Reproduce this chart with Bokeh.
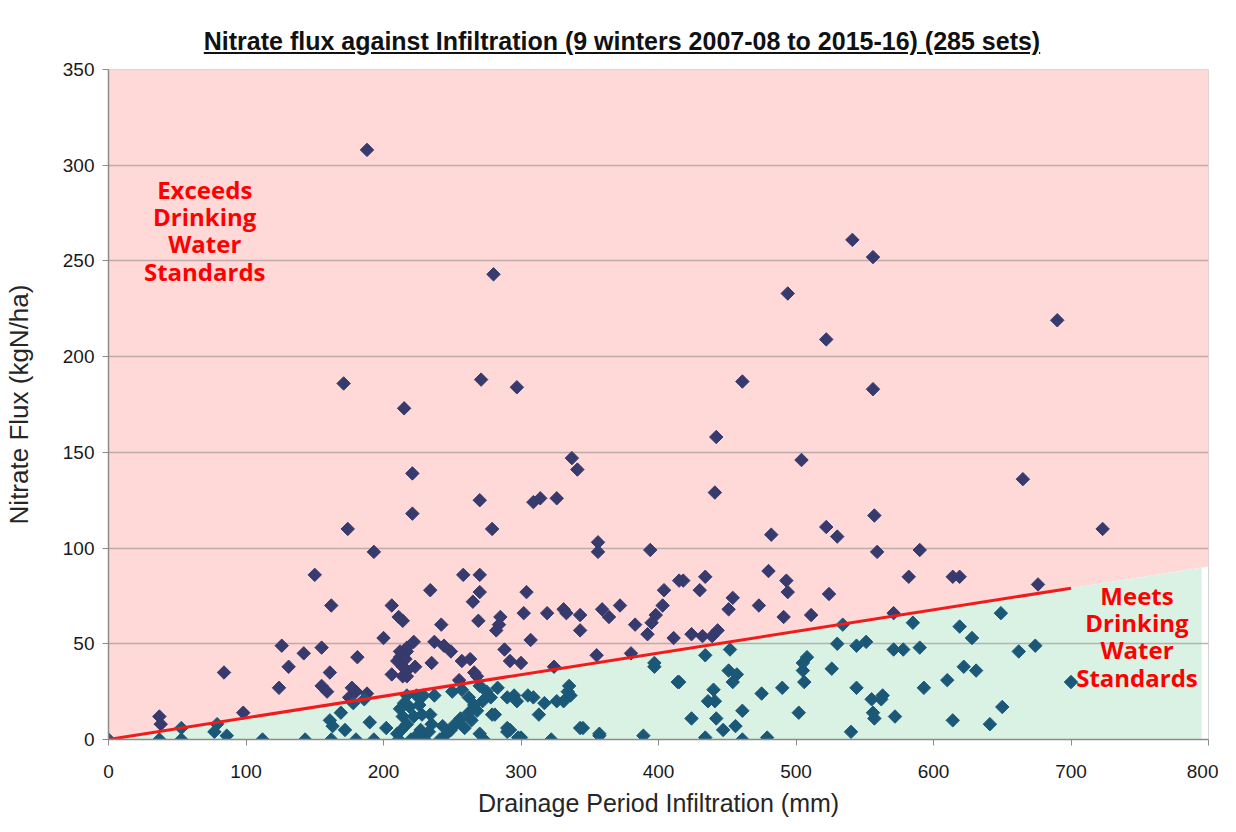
from bokeh.plotting import figure
from bokeh.models import Div, Range1d, FixedTicker
from bokeh.layouts import column
from bokeh.core.properties import value
from bokeh.embed import file_html
from bokeh.resources import INLINE

# ---------------- data ----------------
title_text = "Nitrate flux against Infiltration (9 winters 2007-08 to 2015-16) (285 sets)"
x_label = "Drainage Period Infiltration (mm)"
y_label = "Nitrate Flux (kgN/ha)"
x_ticks = [0, 100, 200, 300, 400, 500, 600, 700, 800]
y_ticks = [0, 50, 100, 150, 200, 250, 300, 350]

# 50 mg/l nitrate limit expressed as kgN/ha per mm of infiltration
limit_slope = 0.1129
limit_line_x = [0, 700]
meets_area_x_end = 795
exceeds_area_x_end = 800

exceed_infiltration = [
    188, 541, 556, 494, 280, 690, 522, 171, 271, 297, 461, 556, 215, 221, 337, 341, 442, 441, 665, 504,
    723, 174, 279, 270, 309, 314, 326, 221, 557, 522, 530, 482, 193, 356, 356, 394, 559, 590,
    150, 258, 270, 480, 418, 434, 493, 582, 614, 619, 676,
    162, 206, 211, 214, 200, 126, 142, 155, 181, 131, 161, 84, 212, 210, 217, 206, 214, 217, 124, 155,
    159, 177, 180, 188, 175, 37, 38, 98,
    234, 270, 265, 304, 242, 269, 285, 284, 282, 302, 319, 331, 333, 343, 343, 359, 364, 372, 383, 404,
    403, 398, 395, 392, 411, 415,
    307, 222, 217, 212, 216, 214, 217, 223, 235, 237, 244, 249, 257, 263, 266, 268, 255, 288, 292, 300,
    324, 355, 380,
    430, 494, 524, 454, 451, 473, 491, 511, 424, 432, 439, 443, 571,
]
exceed_flux = [
    308, 261, 252, 233, 243, 219, 209, 186, 188, 184, 187, 183, 173, 139, 147, 141, 158, 129, 136, 146,
    110, 110, 110, 125, 124, 126, 126, 118, 117, 111, 106, 107, 98, 103, 98, 99, 98, 99,
    86, 86, 86, 88, 83, 85, 83, 85, 85, 85, 81,
    70, 70, 64, 62, 53, 49, 45, 48, 43, 38, 35, 35, 43, 41, 46, 34, 33, 36, 27, 28,
    25, 27, 25, 24, 22, 12, 8, 14,
    78, 77, 72, 77, 60, 62, 64, 60, 57, 66, 66, 68, 66, 65, 57, 68, 64, 70, 60, 78,
    70, 65, 61, 55, 53, 83,
    52, 51, 48, 46, 42, 38, 33, 38, 40, 51, 49, 46, 41, 42, 35, 33, 31, 47, 41, 40,
    38, 44, 45,
    78, 77, 76, 74, 68, 70, 64, 65, 55, 54, 54, 57, 66,
]

meet_infiltration = [
    0, 37, 53, 53, 77, 79, 86, 112, 143, 162, 161, 169, 172, 163, 180, 190, 193, 202, 178, 186,
    211, 213, 214, 215, 212, 217, 224, 229, 237, 220, 227, 235, 243, 249, 222, 228, 234, 217, 224, 230,
    233, 210, 219, 226,
    250, 257, 262, 266, 262, 256, 252, 246, 241, 270, 275, 272, 268, 264, 259, 270, 273, 279, 281, 278,
    283,
    290, 292, 298, 290, 295, 297, 305, 309, 317, 313, 326, 331, 335, 334, 336, 345, 357, 357, 322, 300,
    290, 343, 389, 397, 397, 414,
    434, 452, 530, 544, 551, 571, 578, 590, 585, 619, 628, 649, 662, 674, 700, 508, 505, 505, 506, 526,
    451, 457, 454, 415, 440, 436, 441, 475, 490, 544, 555, 562, 563, 593, 610, 622, 631, 650, 424, 442,
    461, 447, 456, 434, 461, 479, 502, 540, 556, 557, 572, 614, 641, 534,
]
meet_flux = [
    0, 0, 0, 6, 4, 8, 2, 0, 0, 0, 10, 14, 5, 7, 0, 9, 0, 6, 19, 21,
    0, 5, 12, 19, 16, 23, 23, 23, 23, 0, 5, 8, 7, 5, 12, 13, 13, 8, 2, 0,
    4, 3, 17, 18,
    25, 26, 22, 18, 14, 11, 8, 3, 0, 28, 25, 20, 15, 10, 6, 3, 0, 13, 13, 22,
    27,
    6, 5, 1, 22, 23, 20, 23, 22, 19, 13, 20, 20, 28, 25, 23, 6, 2, 3, 0, 1,
    4, 6, 2, 40, 38, 30,
    44, 47, 50, 49, 51, 47, 47, 48, 61, 59, 53, 66, 46, 49, 30, 43, 40, 36, 30, 37,
    36, 34, 30, 30, 26, 20, 20, 24, 27, 27, 21, 21, 23, 27, 31, 38, 36, 17, 11, 11,
    15, 5, 7, 1, 0, 1, 14, 4, 14, 11, 12, 10, 8, 60,
]

# ---------------- figure ----------------
FONT = "Liberation Sans"

p = figure(
    frame_width=1100, frame_height=670,
    x_range=Range1d(0, 800), y_range=Range1d(0, 350),
    output_backend="svg", toolbar_location=None,
    min_border_left=105, min_border_right=10, min_border_top=13, min_border_bottom=85,
    background_fill_color="white", border_fill_color="white",
    outline_line_color="#d4d4d4",
)

# shaded regions
exceeds = p.patch(
    x=[0, exceeds_area_x_end, exceeds_area_x_end, 0],
    y=[0, exceeds_area_x_end * limit_slope, 350, 350],
    fill_color="#ffd8d8", line_color=None,
)
exceeds.level = "image"
meets = p.patch(
    x=[0, meets_area_x_end, meets_area_x_end],
    y=[0, meets_area_x_end * limit_slope, 0],
    fill_color="#d9f2e4", line_color=None,
)
meets.level = "image"

# grid & axes
p.xgrid.visible = False
p.ygrid.ticker = FixedTicker(ticks=y_ticks)
p.ygrid.grid_line_color = "#b0a0a0"
p.ygrid.grid_line_width = 1.5
p.ygrid.grid_line_alpha = 0.8

p.xaxis.ticker = FixedTicker(ticks=x_ticks)
p.yaxis.ticker = FixedTicker(ticks=y_ticks)
for ax in (p.xaxis[0], p.yaxis[0]):
    ax.axis_line_color = "#8c8c8c"
    ax.axis_line_width = 1.5
    ax.major_tick_line_color = "#8c8c8c"
    ax.major_tick_out = 6
    ax.major_tick_in = 0
    ax.minor_tick_out = 0
    ax.minor_tick_in = 0
    ax.major_label_text_font = FONT
    ax.major_label_text_font_size = "19px"
    ax.major_label_text_color = "#1a1a1a"
    ax.axis_label_text_font = FONT
    ax.axis_label_text_font_style = "normal"
    ax.axis_label_text_color = "#262626"

p.xaxis.axis_label = x_label
p.yaxis.axis_label = y_label
p.xaxis.axis_label_text_font_size = "25px"
p.yaxis.axis_label_text_font_size = "26px"
p.xaxis.major_label_standoff = 19
p.xaxis.axis_label_standoff = 8
p.yaxis.major_label_standoff = 8
p.yaxis.axis_label_standoff = 26

# points
p.scatter(exceed_infiltration, exceed_flux, marker="square", size=9.5, angle=0.785398,
          fill_color="#363a6c", line_color="#363a6c")
p.scatter(meet_infiltration, meet_flux, marker="square", size=9.5, angle=0.785398,
          fill_color="#1b5878", line_color="#1b5878")

# limit line
p.line(limit_line_x, [v * limit_slope for v in limit_line_x], line_color="#ee1c1c", line_width=3)

# region labels
p.text(x=[70], y=[266], text=["Exceeds\nDrinking\nWater\nStandards"],
       text_font=value("Open Sans"), text_font_style="bold", text_font_size="24px",
       text_color="#ff0000", text_align="center", text_baseline="middle", text_line_height=0.83)
p.text(x=[748], y=[54], text=["Meets\nDrinking\nWater\nStandards"],
       text_font=value("Open Sans"), text_font_style="bold", text_font_size="24px",
       text_color="#ff0000", text_align="center", text_baseline="middle", text_line_height=0.83)

title = Div(
    text=('<div style="text-align:center;width:1212px;padding-top:24px;position:relative;left:16px;'
          'font-family:\'Liberation Sans\',Arial,sans-serif;font-weight:bold;font-size:25px;'
          'color:#111;text-decoration:underline;">' + title_text + '</div>'),
    width=1212, height=56, margin=(0, 0, 0, 0),
)

layout = column(title, p, spacing=0)
open("out.html", "w").write(file_html(layout, INLINE))
